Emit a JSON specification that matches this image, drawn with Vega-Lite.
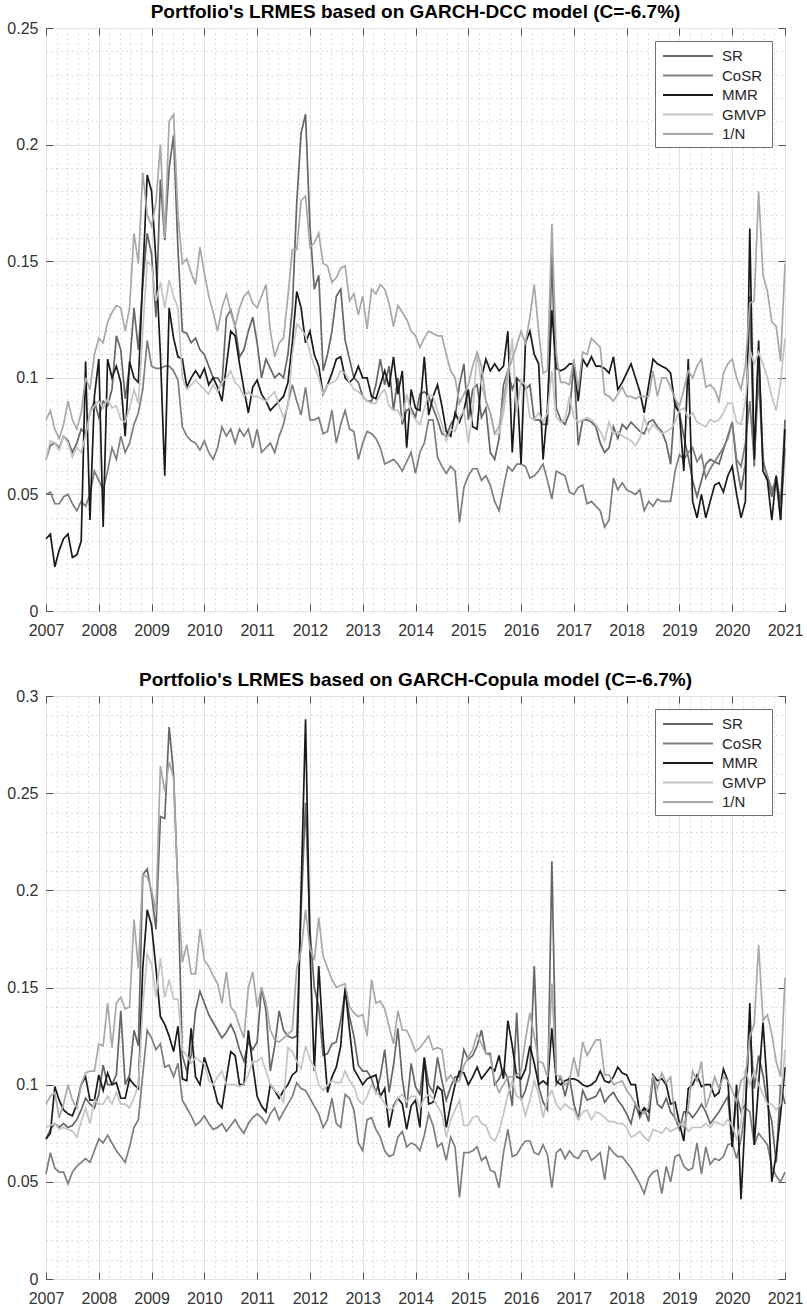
{
"$schema": "https://vega.github.io/schema/vega-lite/v6.json",
"background": "white",
"padding": {"left": 6, "top": 2, "right": 5, "bottom": 0},
"spacing": 31,
"datasets": {
"dcc": [
{"t":2007,"SR":0.065,"CoSR":0.05,"MMR":0.031,"GMVP":0.065,"1/N":0.082},
{"t":2007.083,"SR":0.071,"CoSR":0.051,"MMR":0.033,"GMVP":0.073,"1/N":0.086},
{"t":2007.167,"SR":0.072,"CoSR":0.046,"MMR":0.019,"GMVP":0.072,"1/N":0.078},
{"t":2007.25,"SR":0.07,"CoSR":0.046,"MMR":0.026,"GMVP":0.069,"1/N":0.074},
{"t":2007.333,"SR":0.075,"CoSR":0.049,"MMR":0.031,"GMVP":0.075,"1/N":0.08},
{"t":2007.417,"SR":0.073,"CoSR":0.05,"MMR":0.033,"GMVP":0.072,"1/N":0.09},
{"t":2007.5,"SR":0.068,"CoSR":0.046,"MMR":0.023,"GMVP":0.066,"1/N":0.082},
{"t":2007.583,"SR":0.072,"CoSR":0.043,"MMR":0.024,"GMVP":0.07,"1/N":0.078},
{"t":2007.667,"SR":0.078,"CoSR":0.047,"MMR":0.03,"GMVP":0.068,"1/N":0.085},
{"t":2007.75,"SR":0.076,"CoSR":0.045,"MMR":0.107,"GMVP":0.075,"1/N":0.1},
{"t":2007.833,"SR":0.085,"CoSR":0.05,"MMR":0.039,"GMVP":0.085,"1/N":0.095},
{"t":2007.917,"SR":0.09,"CoSR":0.06,"MMR":0.092,"GMVP":0.088,"1/N":0.11},
{"t":2008,"SR":0.083,"CoSR":0.056,"MMR":0.108,"GMVP":0.09,"1/N":0.117},
{"t":2008.083,"SR":0.09,"CoSR":0.052,"MMR":0.036,"GMVP":0.087,"1/N":0.115},
{"t":2008.167,"SR":0.088,"CoSR":0.06,"MMR":0.108,"GMVP":0.091,"1/N":0.124},
{"t":2008.25,"SR":0.095,"CoSR":0.07,"MMR":0.1,"GMVP":0.087,"1/N":0.128},
{"t":2008.333,"SR":0.118,"CoSR":0.065,"MMR":0.105,"GMVP":0.088,"1/N":0.131},
{"t":2008.417,"SR":0.112,"CoSR":0.075,"MMR":0.098,"GMVP":0.082,"1/N":0.13},
{"t":2008.5,"SR":0.091,"CoSR":0.068,"MMR":0.075,"GMVP":0.081,"1/N":0.12},
{"t":2008.583,"SR":0.105,"CoSR":0.072,"MMR":0.107,"GMVP":0.087,"1/N":0.13},
{"t":2008.667,"SR":0.13,"CoSR":0.08,"MMR":0.1,"GMVP":0.095,"1/N":0.162},
{"t":2008.75,"SR":0.112,"CoSR":0.085,"MMR":0.098,"GMVP":0.089,"1/N":0.149},
{"t":2008.833,"SR":0.14,"CoSR":0.095,"MMR":0.143,"GMVP":0.12,"1/N":0.188},
{"t":2008.917,"SR":0.162,"CoSR":0.116,"MMR":0.187,"GMVP":0.15,"1/N":0.17},
{"t":2009,"SR":0.153,"CoSR":0.105,"MMR":0.18,"GMVP":0.148,"1/N":0.165},
{"t":2009.083,"SR":0.126,"CoSR":0.104,"MMR":0.15,"GMVP":0.133,"1/N":0.175},
{"t":2009.167,"SR":0.185,"CoSR":0.104,"MMR":0.11,"GMVP":0.141,"1/N":0.2},
{"t":2009.25,"SR":0.159,"CoSR":0.105,"MMR":0.058,"GMVP":0.13,"1/N":0.16},
{"t":2009.333,"SR":0.19,"CoSR":0.105,"MMR":0.13,"GMVP":0.142,"1/N":0.21},
{"t":2009.417,"SR":0.204,"CoSR":0.103,"MMR":0.117,"GMVP":0.135,"1/N":0.213},
{"t":2009.5,"SR":0.155,"CoSR":0.099,"MMR":0.109,"GMVP":0.13,"1/N":0.17},
{"t":2009.583,"SR":0.12,"CoSR":0.079,"MMR":0.108,"GMVP":0.1,"1/N":0.149},
{"t":2009.667,"SR":0.119,"CoSR":0.075,"MMR":0.096,"GMVP":0.095,"1/N":0.151},
{"t":2009.75,"SR":0.115,"CoSR":0.073,"MMR":0.1,"GMVP":0.097,"1/N":0.145},
{"t":2009.833,"SR":0.117,"CoSR":0.072,"MMR":0.103,"GMVP":0.099,"1/N":0.14},
{"t":2009.917,"SR":0.112,"CoSR":0.069,"MMR":0.1,"GMVP":0.097,"1/N":0.156},
{"t":2010,"SR":0.11,"CoSR":0.073,"MMR":0.104,"GMVP":0.095,"1/N":0.145},
{"t":2010.083,"SR":0.105,"CoSR":0.068,"MMR":0.097,"GMVP":0.093,"1/N":0.135},
{"t":2010.167,"SR":0.1,"CoSR":0.065,"MMR":0.1,"GMVP":0.097,"1/N":0.128},
{"t":2010.25,"SR":0.1,"CoSR":0.07,"MMR":0.096,"GMVP":0.094,"1/N":0.12},
{"t":2010.333,"SR":0.097,"CoSR":0.079,"MMR":0.09,"GMVP":0.098,"1/N":0.13},
{"t":2010.417,"SR":0.126,"CoSR":0.075,"MMR":0.105,"GMVP":0.1,"1/N":0.136},
{"t":2010.5,"SR":0.129,"CoSR":0.078,"MMR":0.12,"GMVP":0.103,"1/N":0.128},
{"t":2010.583,"SR":0.122,"CoSR":0.072,"MMR":0.118,"GMVP":0.098,"1/N":0.122},
{"t":2010.667,"SR":0.109,"CoSR":0.078,"MMR":0.106,"GMVP":0.096,"1/N":0.13},
{"t":2010.75,"SR":0.112,"CoSR":0.075,"MMR":0.095,"GMVP":0.092,"1/N":0.135},
{"t":2010.833,"SR":0.12,"CoSR":0.078,"MMR":0.085,"GMVP":0.094,"1/N":0.137},
{"t":2010.917,"SR":0.126,"CoSR":0.07,"MMR":0.096,"GMVP":0.092,"1/N":0.132},
{"t":2011,"SR":0.115,"CoSR":0.078,"MMR":0.099,"GMVP":0.092,"1/N":0.13},
{"t":2011.083,"SR":0.1,"CoSR":0.068,"MMR":0.093,"GMVP":0.091,"1/N":0.135},
{"t":2011.167,"SR":0.108,"CoSR":0.07,"MMR":0.09,"GMVP":0.09,"1/N":0.14},
{"t":2011.25,"SR":0.104,"CoSR":0.072,"MMR":0.086,"GMVP":0.092,"1/N":0.12},
{"t":2011.333,"SR":0.1,"CoSR":0.068,"MMR":0.088,"GMVP":0.094,"1/N":0.109},
{"t":2011.417,"SR":0.102,"CoSR":0.075,"MMR":0.09,"GMVP":0.088,"1/N":0.115},
{"t":2011.5,"SR":0.1,"CoSR":0.08,"MMR":0.092,"GMVP":0.083,"1/N":0.117},
{"t":2011.583,"SR":0.11,"CoSR":0.089,"MMR":0.098,"GMVP":0.088,"1/N":0.135},
{"t":2011.667,"SR":0.13,"CoSR":0.097,"MMR":0.115,"GMVP":0.11,"1/N":0.155},
{"t":2011.75,"SR":0.175,"CoSR":0.09,"MMR":0.137,"GMVP":0.123,"1/N":0.155},
{"t":2011.833,"SR":0.205,"CoSR":0.084,"MMR":0.13,"GMVP":0.121,"1/N":0.176},
{"t":2011.917,"SR":0.213,"CoSR":0.096,"MMR":0.115,"GMVP":0.118,"1/N":0.178},
{"t":2012,"SR":0.165,"CoSR":0.082,"MMR":0.12,"GMVP":0.111,"1/N":0.156},
{"t":2012.083,"SR":0.138,"CoSR":0.082,"MMR":0.11,"GMVP":0.105,"1/N":0.158},
{"t":2012.167,"SR":0.144,"CoSR":0.083,"MMR":0.105,"GMVP":0.1,"1/N":0.162},
{"t":2012.25,"SR":0.103,"CoSR":0.076,"MMR":0.093,"GMVP":0.093,"1/N":0.149},
{"t":2012.333,"SR":0.11,"CoSR":0.077,"MMR":0.097,"GMVP":0.097,"1/N":0.148},
{"t":2012.417,"SR":0.12,"CoSR":0.086,"MMR":0.102,"GMVP":0.098,"1/N":0.141},
{"t":2012.5,"SR":0.135,"CoSR":0.072,"MMR":0.108,"GMVP":0.099,"1/N":0.143},
{"t":2012.583,"SR":0.138,"CoSR":0.08,"MMR":0.109,"GMVP":0.103,"1/N":0.147},
{"t":2012.667,"SR":0.116,"CoSR":0.086,"MMR":0.1,"GMVP":0.102,"1/N":0.148},
{"t":2012.75,"SR":0.108,"CoSR":0.078,"MMR":0.098,"GMVP":0.098,"1/N":0.133},
{"t":2012.833,"SR":0.1,"CoSR":0.077,"MMR":0.1,"GMVP":0.095,"1/N":0.136},
{"t":2012.917,"SR":0.098,"CoSR":0.065,"MMR":0.105,"GMVP":0.094,"1/N":0.127},
{"t":2013,"SR":0.092,"CoSR":0.072,"MMR":0.1,"GMVP":0.092,"1/N":0.135},
{"t":2013.083,"SR":0.09,"CoSR":0.077,"MMR":0.1,"GMVP":0.09,"1/N":0.121},
{"t":2013.167,"SR":0.09,"CoSR":0.076,"MMR":0.092,"GMVP":0.089,"1/N":0.138},
{"t":2013.25,"SR":0.097,"CoSR":0.074,"MMR":0.091,"GMVP":0.089,"1/N":0.136},
{"t":2013.333,"SR":0.108,"CoSR":0.07,"MMR":0.097,"GMVP":0.093,"1/N":0.14},
{"t":2013.417,"SR":0.097,"CoSR":0.063,"MMR":0.103,"GMVP":0.095,"1/N":0.138},
{"t":2013.5,"SR":0.105,"CoSR":0.064,"MMR":0.096,"GMVP":0.088,"1/N":0.132},
{"t":2013.583,"SR":0.086,"CoSR":0.065,"MMR":0.109,"GMVP":0.086,"1/N":0.122},
{"t":2013.667,"SR":0.1,"CoSR":0.063,"MMR":0.093,"GMVP":0.086,"1/N":0.131},
{"t":2013.75,"SR":0.08,"CoSR":0.06,"MMR":0.103,"GMVP":0.082,"1/N":0.128},
{"t":2013.833,"SR":0.086,"CoSR":0.064,"MMR":0.07,"GMVP":0.093,"1/N":0.125},
{"t":2013.917,"SR":0.087,"CoSR":0.068,"MMR":0.095,"GMVP":0.085,"1/N":0.12},
{"t":2014,"SR":0.083,"CoSR":0.059,"MMR":0.087,"GMVP":0.082,"1/N":0.118},
{"t":2014.083,"SR":0.093,"CoSR":0.068,"MMR":0.086,"GMVP":0.08,"1/N":0.113},
{"t":2014.167,"SR":0.094,"CoSR":0.072,"MMR":0.109,"GMVP":0.087,"1/N":0.117},
{"t":2014.25,"SR":0.092,"CoSR":0.082,"MMR":0.084,"GMVP":0.093,"1/N":0.12},
{"t":2014.333,"SR":0.087,"CoSR":0.082,"MMR":0.092,"GMVP":0.092,"1/N":0.119},
{"t":2014.417,"SR":0.082,"CoSR":0.066,"MMR":0.097,"GMVP":0.086,"1/N":0.118},
{"t":2014.5,"SR":0.076,"CoSR":0.062,"MMR":0.088,"GMVP":0.08,"1/N":0.118},
{"t":2014.583,"SR":0.075,"CoSR":0.059,"MMR":0.077,"GMVP":0.073,"1/N":0.11},
{"t":2014.667,"SR":0.08,"CoSR":0.062,"MMR":0.075,"GMVP":0.078,"1/N":0.103},
{"t":2014.75,"SR":0.083,"CoSR":0.06,"MMR":0.085,"GMVP":0.077,"1/N":0.1},
{"t":2014.833,"SR":0.097,"CoSR":0.038,"MMR":0.081,"GMVP":0.083,"1/N":0.089},
{"t":2014.917,"SR":0.106,"CoSR":0.053,"MMR":0.086,"GMVP":0.086,"1/N":0.093},
{"t":2015,"SR":0.082,"CoSR":0.058,"MMR":0.095,"GMVP":0.072,"1/N":0.097},
{"t":2015.083,"SR":0.095,"CoSR":0.061,"MMR":0.079,"GMVP":0.085,"1/N":0.105},
{"t":2015.167,"SR":0.097,"CoSR":0.061,"MMR":0.078,"GMVP":0.111,"1/N":0.111},
{"t":2015.25,"SR":0.083,"CoSR":0.056,"MMR":0.1,"GMVP":0.097,"1/N":0.105},
{"t":2015.333,"SR":0.087,"CoSR":0.058,"MMR":0.108,"GMVP":0.09,"1/N":0.09},
{"t":2015.417,"SR":0.068,"CoSR":0.054,"MMR":0.103,"GMVP":0.085,"1/N":0.085},
{"t":2015.5,"SR":0.065,"CoSR":0.047,"MMR":0.106,"GMVP":0.076,"1/N":0.076},
{"t":2015.583,"SR":0.074,"CoSR":0.043,"MMR":0.103,"GMVP":0.076,"1/N":0.079},
{"t":2015.667,"SR":0.097,"CoSR":0.053,"MMR":0.105,"GMVP":0.085,"1/N":0.09},
{"t":2015.75,"SR":0.103,"CoSR":0.062,"MMR":0.12,"GMVP":0.099,"1/N":0.103},
{"t":2015.833,"SR":0.095,"CoSR":0.06,"MMR":0.068,"GMVP":0.117,"1/N":0.108},
{"t":2015.917,"SR":0.1,"CoSR":0.063,"MMR":0.1,"GMVP":0.085,"1/N":0.114},
{"t":2016,"SR":0.098,"CoSR":0.063,"MMR":0.063,"GMVP":0.099,"1/N":0.12},
{"t":2016.083,"SR":0.095,"CoSR":0.062,"MMR":0.115,"GMVP":0.097,"1/N":0.115},
{"t":2016.167,"SR":0.097,"CoSR":0.057,"MMR":0.12,"GMVP":0.083,"1/N":0.126},
{"t":2016.25,"SR":0.082,"CoSR":0.058,"MMR":0.11,"GMVP":0.082,"1/N":0.14},
{"t":2016.333,"SR":0.082,"CoSR":0.06,"MMR":0.106,"GMVP":0.085,"1/N":0.12},
{"t":2016.417,"SR":0.08,"CoSR":0.063,"MMR":0.065,"GMVP":0.081,"1/N":0.102},
{"t":2016.5,"SR":0.08,"CoSR":0.056,"MMR":0.087,"GMVP":0.085,"1/N":0.103},
{"t":2016.583,"SR":0.153,"CoSR":0.048,"MMR":0.129,"GMVP":0.103,"1/N":0.166},
{"t":2016.667,"SR":0.087,"CoSR":0.06,"MMR":0.104,"GMVP":0.083,"1/N":0.11},
{"t":2016.75,"SR":0.082,"CoSR":0.059,"MMR":0.103,"GMVP":0.081,"1/N":0.098},
{"t":2016.833,"SR":0.08,"CoSR":0.058,"MMR":0.104,"GMVP":0.082,"1/N":0.098},
{"t":2016.917,"SR":0.085,"CoSR":0.051,"MMR":0.106,"GMVP":0.092,"1/N":0.097},
{"t":2017,"SR":0.106,"CoSR":0.05,"MMR":0.106,"GMVP":0.083,"1/N":0.108},
{"t":2017.083,"SR":0.071,"CoSR":0.053,"MMR":0.09,"GMVP":0.081,"1/N":0.095},
{"t":2017.167,"SR":0.082,"CoSR":0.054,"MMR":0.108,"GMVP":0.082,"1/N":0.111},
{"t":2017.25,"SR":0.082,"CoSR":0.046,"MMR":0.105,"GMVP":0.083,"1/N":0.11},
{"t":2017.333,"SR":0.081,"CoSR":0.047,"MMR":0.109,"GMVP":0.082,"1/N":0.117},
{"t":2017.417,"SR":0.079,"CoSR":0.045,"MMR":0.105,"GMVP":0.08,"1/N":0.115},
{"t":2017.5,"SR":0.072,"CoSR":0.043,"MMR":0.105,"GMVP":0.077,"1/N":0.113},
{"t":2017.583,"SR":0.068,"CoSR":0.036,"MMR":0.104,"GMVP":0.073,"1/N":0.093},
{"t":2017.667,"SR":0.07,"CoSR":0.039,"MMR":0.102,"GMVP":0.081,"1/N":0.092},
{"t":2017.75,"SR":0.079,"CoSR":0.057,"MMR":0.109,"GMVP":0.076,"1/N":0.09},
{"t":2017.833,"SR":0.074,"CoSR":0.052,"MMR":0.095,"GMVP":0.077,"1/N":0.093},
{"t":2017.917,"SR":0.08,"CoSR":0.055,"MMR":0.098,"GMVP":0.075,"1/N":0.096},
{"t":2018,"SR":0.078,"CoSR":0.052,"MMR":0.102,"GMVP":0.074,"1/N":0.092},
{"t":2018.083,"SR":0.081,"CoSR":0.051,"MMR":0.106,"GMVP":0.073,"1/N":0.092},
{"t":2018.167,"SR":0.079,"CoSR":0.05,"MMR":0.1,"GMVP":0.071,"1/N":0.091},
{"t":2018.25,"SR":0.077,"CoSR":0.052,"MMR":0.094,"GMVP":0.074,"1/N":0.092},
{"t":2018.333,"SR":0.076,"CoSR":0.043,"MMR":0.085,"GMVP":0.083,"1/N":0.092},
{"t":2018.417,"SR":0.081,"CoSR":0.047,"MMR":0.097,"GMVP":0.077,"1/N":0.092},
{"t":2018.5,"SR":0.082,"CoSR":0.045,"MMR":0.108,"GMVP":0.08,"1/N":0.103},
{"t":2018.583,"SR":0.079,"CoSR":0.048,"MMR":0.106,"GMVP":0.078,"1/N":0.092},
{"t":2018.667,"SR":0.077,"CoSR":0.047,"MMR":0.105,"GMVP":0.076,"1/N":0.1},
{"t":2018.75,"SR":0.072,"CoSR":0.047,"MMR":0.104,"GMVP":0.077,"1/N":0.1},
{"t":2018.833,"SR":0.063,"CoSR":0.047,"MMR":0.102,"GMVP":0.078,"1/N":0.096},
{"t":2018.917,"SR":0.09,"CoSR":0.06,"MMR":0.088,"GMVP":0.081,"1/N":0.091},
{"t":2019,"SR":0.085,"CoSR":0.067,"MMR":0.085,"GMVP":0.086,"1/N":0.088},
{"t":2019.083,"SR":0.075,"CoSR":0.065,"MMR":0.06,"GMVP":0.087,"1/N":0.095},
{"t":2019.167,"SR":0.066,"CoSR":0.068,"MMR":0.108,"GMVP":0.083,"1/N":0.103},
{"t":2019.25,"SR":0.056,"CoSR":0.07,"MMR":0.047,"GMVP":0.085,"1/N":0.1},
{"t":2019.333,"SR":0.049,"CoSR":0.064,"MMR":0.04,"GMVP":0.081,"1/N":0.105},
{"t":2019.417,"SR":0.056,"CoSR":0.067,"MMR":0.05,"GMVP":0.08,"1/N":0.108},
{"t":2019.5,"SR":0.063,"CoSR":0.057,"MMR":0.04,"GMVP":0.079,"1/N":0.096},
{"t":2019.583,"SR":0.065,"CoSR":0.061,"MMR":0.047,"GMVP":0.082,"1/N":0.097},
{"t":2019.667,"SR":0.064,"CoSR":0.064,"MMR":0.054,"GMVP":0.081,"1/N":0.095},
{"t":2019.75,"SR":0.063,"CoSR":0.067,"MMR":0.055,"GMVP":0.082,"1/N":0.09},
{"t":2019.833,"SR":0.069,"CoSR":0.07,"MMR":0.051,"GMVP":0.085,"1/N":0.102},
{"t":2019.917,"SR":0.075,"CoSR":0.074,"MMR":0.058,"GMVP":0.089,"1/N":0.106},
{"t":2020,"SR":0.081,"CoSR":0.081,"MMR":0.062,"GMVP":0.089,"1/N":0.108},
{"t":2020.083,"SR":0.063,"CoSR":0.065,"MMR":0.05,"GMVP":0.081,"1/N":0.1},
{"t":2020.167,"SR":0.052,"CoSR":0.062,"MMR":0.04,"GMVP":0.08,"1/N":0.095},
{"t":2020.25,"SR":0.063,"CoSR":0.072,"MMR":0.047,"GMVP":0.09,"1/N":0.105},
{"t":2020.333,"SR":0.135,"CoSR":0.09,"MMR":0.164,"GMVP":0.112,"1/N":0.132},
{"t":2020.417,"SR":0.062,"CoSR":0.064,"MMR":0.065,"GMVP":0.106,"1/N":0.133},
{"t":2020.5,"SR":0.111,"CoSR":0.1,"MMR":0.116,"GMVP":0.111,"1/N":0.18},
{"t":2020.583,"SR":0.065,"CoSR":0.064,"MMR":0.06,"GMVP":0.106,"1/N":0.144},
{"t":2020.667,"SR":0.057,"CoSR":0.058,"MMR":0.056,"GMVP":0.1,"1/N":0.137},
{"t":2020.75,"SR":0.049,"CoSR":0.052,"MMR":0.039,"GMVP":0.092,"1/N":0.124},
{"t":2020.833,"SR":0.058,"CoSR":0.056,"MMR":0.058,"GMVP":0.086,"1/N":0.122},
{"t":2020.917,"SR":0.046,"CoSR":0.039,"MMR":0.039,"GMVP":0.098,"1/N":0.107},
{"t":2021,"SR":0.082,"CoSR":0.07,"MMR":0.078,"GMVP":0.117,"1/N":0.149}
],
"cop": [
{"t":2007,"SR":0.072,"CoSR":0.054,"MMR":0.072,"GMVP":0.078,"1/N":0.09},
{"t":2007.083,"SR":0.077,"CoSR":0.065,"MMR":0.075,"GMVP":0.079,"1/N":0.094},
{"t":2007.167,"SR":0.08,"CoSR":0.057,"MMR":0.099,"GMVP":0.08,"1/N":0.096},
{"t":2007.25,"SR":0.078,"CoSR":0.055,"MMR":0.092,"GMVP":0.077,"1/N":0.083},
{"t":2007.333,"SR":0.08,"CoSR":0.055,"MMR":0.087,"GMVP":0.078,"1/N":0.09},
{"t":2007.417,"SR":0.078,"CoSR":0.049,"MMR":0.085,"GMVP":0.077,"1/N":0.1},
{"t":2007.5,"SR":0.079,"CoSR":0.055,"MMR":0.084,"GMVP":0.076,"1/N":0.092},
{"t":2007.583,"SR":0.082,"CoSR":0.058,"MMR":0.09,"GMVP":0.073,"1/N":0.088},
{"t":2007.667,"SR":0.087,"CoSR":0.06,"MMR":0.1,"GMVP":0.081,"1/N":0.1},
{"t":2007.75,"SR":0.093,"CoSR":0.062,"MMR":0.104,"GMVP":0.088,"1/N":0.106},
{"t":2007.833,"SR":0.09,"CoSR":0.06,"MMR":0.092,"GMVP":0.08,"1/N":0.107},
{"t":2007.917,"SR":0.088,"CoSR":0.066,"MMR":0.092,"GMVP":0.092,"1/N":0.107},
{"t":2008,"SR":0.095,"CoSR":0.072,"MMR":0.105,"GMVP":0.09,"1/N":0.121},
{"t":2008.083,"SR":0.11,"CoSR":0.07,"MMR":0.097,"GMVP":0.09,"1/N":0.12},
{"t":2008.167,"SR":0.1,"CoSR":0.074,"MMR":0.106,"GMVP":0.094,"1/N":0.142},
{"t":2008.25,"SR":0.1,"CoSR":0.07,"MMR":0.1,"GMVP":0.09,"1/N":0.119},
{"t":2008.333,"SR":0.105,"CoSR":0.066,"MMR":0.101,"GMVP":0.096,"1/N":0.142},
{"t":2008.417,"SR":0.138,"CoSR":0.063,"MMR":0.093,"GMVP":0.09,"1/N":0.145},
{"t":2008.5,"SR":0.1,"CoSR":0.06,"MMR":0.093,"GMVP":0.09,"1/N":0.139},
{"t":2008.583,"SR":0.105,"CoSR":0.068,"MMR":0.103,"GMVP":0.088,"1/N":0.14},
{"t":2008.667,"SR":0.128,"CoSR":0.078,"MMR":0.1,"GMVP":0.093,"1/N":0.185},
{"t":2008.75,"SR":0.12,"CoSR":0.082,"MMR":0.098,"GMVP":0.1,"1/N":0.16},
{"t":2008.833,"SR":0.208,"CoSR":0.105,"MMR":0.16,"GMVP":0.14,"1/N":0.208},
{"t":2008.917,"SR":0.211,"CoSR":0.128,"MMR":0.19,"GMVP":0.167,"1/N":0.207},
{"t":2009,"SR":0.198,"CoSR":0.124,"MMR":0.182,"GMVP":0.162,"1/N":0.2},
{"t":2009.083,"SR":0.18,"CoSR":0.118,"MMR":0.16,"GMVP":0.145,"1/N":0.189},
{"t":2009.167,"SR":0.238,"CoSR":0.121,"MMR":0.135,"GMVP":0.165,"1/N":0.264},
{"t":2009.25,"SR":0.237,"CoSR":0.109,"MMR":0.131,"GMVP":0.145,"1/N":0.251},
{"t":2009.333,"SR":0.284,"CoSR":0.11,"MMR":0.125,"GMVP":0.154,"1/N":0.266},
{"t":2009.417,"SR":0.26,"CoSR":0.104,"MMR":0.117,"GMVP":0.144,"1/N":0.258},
{"t":2009.5,"SR":0.2,"CoSR":0.111,"MMR":0.13,"GMVP":0.144,"1/N":0.2},
{"t":2009.583,"SR":0.115,"CoSR":0.092,"MMR":0.103,"GMVP":0.118,"1/N":0.163},
{"t":2009.667,"SR":0.107,"CoSR":0.088,"MMR":0.102,"GMVP":0.115,"1/N":0.172},
{"t":2009.75,"SR":0.115,"CoSR":0.084,"MMR":0.129,"GMVP":0.111,"1/N":0.157},
{"t":2009.833,"SR":0.138,"CoSR":0.079,"MMR":0.104,"GMVP":0.114,"1/N":0.157},
{"t":2009.917,"SR":0.148,"CoSR":0.081,"MMR":0.1,"GMVP":0.112,"1/N":0.18},
{"t":2010,"SR":0.142,"CoSR":0.084,"MMR":0.114,"GMVP":0.111,"1/N":0.164},
{"t":2010.083,"SR":0.136,"CoSR":0.08,"MMR":0.107,"GMVP":0.102,"1/N":0.161},
{"t":2010.167,"SR":0.132,"CoSR":0.077,"MMR":0.1,"GMVP":0.1,"1/N":0.156},
{"t":2010.25,"SR":0.128,"CoSR":0.078,"MMR":0.091,"GMVP":0.104,"1/N":0.152},
{"t":2010.333,"SR":0.124,"CoSR":0.08,"MMR":0.088,"GMVP":0.107,"1/N":0.142},
{"t":2010.417,"SR":0.127,"CoSR":0.076,"MMR":0.103,"GMVP":0.1,"1/N":0.158},
{"t":2010.5,"SR":0.131,"CoSR":0.079,"MMR":0.117,"GMVP":0.1,"1/N":0.14},
{"t":2010.583,"SR":0.126,"CoSR":0.082,"MMR":0.115,"GMVP":0.1,"1/N":0.137},
{"t":2010.667,"SR":0.118,"CoSR":0.078,"MMR":0.1,"GMVP":0.099,"1/N":0.13},
{"t":2010.75,"SR":0.112,"CoSR":0.075,"MMR":0.1,"GMVP":0.1,"1/N":0.124},
{"t":2010.833,"SR":0.122,"CoSR":0.08,"MMR":0.128,"GMVP":0.105,"1/N":0.15},
{"t":2010.917,"SR":0.118,"CoSR":0.083,"MMR":0.11,"GMVP":0.112,"1/N":0.158},
{"t":2011,"SR":0.122,"CoSR":0.085,"MMR":0.094,"GMVP":0.112,"1/N":0.14},
{"t":2011.083,"SR":0.15,"CoSR":0.083,"MMR":0.089,"GMVP":0.114,"1/N":0.15},
{"t":2011.167,"SR":0.138,"CoSR":0.08,"MMR":0.086,"GMVP":0.107,"1/N":0.142},
{"t":2011.25,"SR":0.107,"CoSR":0.085,"MMR":0.1,"GMVP":0.1,"1/N":0.128},
{"t":2011.333,"SR":0.12,"CoSR":0.088,"MMR":0.097,"GMVP":0.097,"1/N":0.123},
{"t":2011.417,"SR":0.138,"CoSR":0.082,"MMR":0.093,"GMVP":0.095,"1/N":0.122},
{"t":2011.5,"SR":0.128,"CoSR":0.086,"MMR":0.097,"GMVP":0.091,"1/N":0.124},
{"t":2011.583,"SR":0.125,"CoSR":0.09,"MMR":0.1,"GMVP":0.119,"1/N":0.126},
{"t":2011.667,"SR":0.124,"CoSR":0.094,"MMR":0.105,"GMVP":0.117,"1/N":0.128},
{"t":2011.75,"SR":0.125,"CoSR":0.101,"MMR":0.107,"GMVP":0.112,"1/N":0.16},
{"t":2011.833,"SR":0.19,"CoSR":0.098,"MMR":0.2,"GMVP":0.108,"1/N":0.169},
{"t":2011.917,"SR":0.245,"CoSR":0.097,"MMR":0.288,"GMVP":0.12,"1/N":0.19},
{"t":2012,"SR":0.18,"CoSR":0.093,"MMR":0.17,"GMVP":0.113,"1/N":0.17},
{"t":2012.083,"SR":0.15,"CoSR":0.089,"MMR":0.107,"GMVP":0.109,"1/N":0.164},
{"t":2012.167,"SR":0.14,"CoSR":0.085,"MMR":0.161,"GMVP":0.1,"1/N":0.186},
{"t":2012.25,"SR":0.115,"CoSR":0.078,"MMR":0.124,"GMVP":0.097,"1/N":0.166},
{"t":2012.333,"SR":0.116,"CoSR":0.082,"MMR":0.096,"GMVP":0.1,"1/N":0.16},
{"t":2012.417,"SR":0.121,"CoSR":0.093,"MMR":0.104,"GMVP":0.102,"1/N":0.154},
{"t":2012.5,"SR":0.122,"CoSR":0.08,"MMR":0.109,"GMVP":0.101,"1/N":0.15},
{"t":2012.583,"SR":0.133,"CoSR":0.078,"MMR":0.12,"GMVP":0.101,"1/N":0.151},
{"t":2012.667,"SR":0.148,"CoSR":0.095,"MMR":0.15,"GMVP":0.107,"1/N":0.152},
{"t":2012.75,"SR":0.135,"CoSR":0.093,"MMR":0.128,"GMVP":0.102,"1/N":0.14},
{"t":2012.833,"SR":0.125,"CoSR":0.087,"MMR":0.108,"GMVP":0.099,"1/N":0.137},
{"t":2012.917,"SR":0.11,"CoSR":0.07,"MMR":0.104,"GMVP":0.092,"1/N":0.135},
{"t":2013,"SR":0.107,"CoSR":0.066,"MMR":0.1,"GMVP":0.09,"1/N":0.136},
{"t":2013.083,"SR":0.107,"CoSR":0.082,"MMR":0.103,"GMVP":0.094,"1/N":0.125},
{"t":2013.167,"SR":0.103,"CoSR":0.083,"MMR":0.104,"GMVP":0.1,"1/N":0.154},
{"t":2013.25,"SR":0.096,"CoSR":0.077,"MMR":0.105,"GMVP":0.096,"1/N":0.142},
{"t":2013.333,"SR":0.104,"CoSR":0.073,"MMR":0.094,"GMVP":0.094,"1/N":0.143},
{"t":2013.417,"SR":0.118,"CoSR":0.066,"MMR":0.098,"GMVP":0.09,"1/N":0.139},
{"t":2013.5,"SR":0.096,"CoSR":0.063,"MMR":0.078,"GMVP":0.087,"1/N":0.13},
{"t":2013.583,"SR":0.11,"CoSR":0.064,"MMR":0.089,"GMVP":0.088,"1/N":0.121},
{"t":2013.667,"SR":0.129,"CoSR":0.073,"MMR":0.093,"GMVP":0.093,"1/N":0.138},
{"t":2013.75,"SR":0.103,"CoSR":0.076,"MMR":0.09,"GMVP":0.095,"1/N":0.128},
{"t":2013.833,"SR":0.088,"CoSR":0.068,"MMR":0.077,"GMVP":0.091,"1/N":0.128},
{"t":2013.917,"SR":0.111,"CoSR":0.07,"MMR":0.089,"GMVP":0.094,"1/N":0.123},
{"t":2014,"SR":0.099,"CoSR":0.069,"MMR":0.092,"GMVP":0.094,"1/N":0.117},
{"t":2014.083,"SR":0.095,"CoSR":0.066,"MMR":0.078,"GMVP":0.088,"1/N":0.119},
{"t":2014.167,"SR":0.114,"CoSR":0.074,"MMR":0.114,"GMVP":0.093,"1/N":0.122},
{"t":2014.25,"SR":0.1,"CoSR":0.085,"MMR":0.09,"GMVP":0.095,"1/N":0.125},
{"t":2014.333,"SR":0.096,"CoSR":0.079,"MMR":0.091,"GMVP":0.093,"1/N":0.118},
{"t":2014.417,"SR":0.114,"CoSR":0.068,"MMR":0.099,"GMVP":0.089,"1/N":0.119},
{"t":2014.5,"SR":0.102,"CoSR":0.07,"MMR":0.097,"GMVP":0.085,"1/N":0.118},
{"t":2014.583,"SR":0.092,"CoSR":0.061,"MMR":0.078,"GMVP":0.073,"1/N":0.102},
{"t":2014.667,"SR":0.099,"CoSR":0.073,"MMR":0.09,"GMVP":0.082,"1/N":0.105},
{"t":2014.75,"SR":0.104,"CoSR":0.068,"MMR":0.1,"GMVP":0.087,"1/N":0.101},
{"t":2014.833,"SR":0.104,"CoSR":0.042,"MMR":0.107,"GMVP":0.092,"1/N":0.102},
{"t":2014.917,"SR":0.118,"CoSR":0.065,"MMR":0.106,"GMVP":0.079,"1/N":0.11},
{"t":2015,"SR":0.113,"CoSR":0.065,"MMR":0.1,"GMVP":0.079,"1/N":0.114},
{"t":2015.083,"SR":0.115,"CoSR":0.066,"MMR":0.104,"GMVP":0.083,"1/N":0.118},
{"t":2015.167,"SR":0.12,"CoSR":0.068,"MMR":0.109,"GMVP":0.084,"1/N":0.126},
{"t":2015.25,"SR":0.128,"CoSR":0.061,"MMR":0.103,"GMVP":0.08,"1/N":0.121},
{"t":2015.333,"SR":0.116,"CoSR":0.063,"MMR":0.106,"GMVP":0.079,"1/N":0.116},
{"t":2015.417,"SR":0.116,"CoSR":0.056,"MMR":0.109,"GMVP":0.073,"1/N":0.115},
{"t":2015.5,"SR":0.1,"CoSR":0.055,"MMR":0.107,"GMVP":0.071,"1/N":0.102},
{"t":2015.583,"SR":0.103,"CoSR":0.047,"MMR":0.115,"GMVP":0.076,"1/N":0.096},
{"t":2015.667,"SR":0.108,"CoSR":0.065,"MMR":0.103,"GMVP":0.085,"1/N":0.1},
{"t":2015.75,"SR":0.103,"CoSR":0.077,"MMR":0.133,"GMVP":0.095,"1/N":0.104},
{"t":2015.833,"SR":0.089,"CoSR":0.063,"MMR":0.12,"GMVP":0.102,"1/N":0.104},
{"t":2015.917,"SR":0.137,"CoSR":0.064,"MMR":0.104,"GMVP":0.094,"1/N":0.105},
{"t":2016,"SR":0.092,"CoSR":0.068,"MMR":0.103,"GMVP":0.093,"1/N":0.107},
{"t":2016.083,"SR":0.097,"CoSR":0.071,"MMR":0.108,"GMVP":0.084,"1/N":0.123},
{"t":2016.167,"SR":0.106,"CoSR":0.071,"MMR":0.12,"GMVP":0.092,"1/N":0.137},
{"t":2016.25,"SR":0.161,"CoSR":0.065,"MMR":0.111,"GMVP":0.102,"1/N":0.125},
{"t":2016.333,"SR":0.099,"CoSR":0.064,"MMR":0.1,"GMVP":0.095,"1/N":0.112},
{"t":2016.417,"SR":0.091,"CoSR":0.069,"MMR":0.102,"GMVP":0.083,"1/N":0.111},
{"t":2016.5,"SR":0.087,"CoSR":0.064,"MMR":0.1,"GMVP":0.093,"1/N":0.104},
{"t":2016.583,"SR":0.215,"CoSR":0.047,"MMR":0.129,"GMVP":0.097,"1/N":0.152},
{"t":2016.667,"SR":0.1,"CoSR":0.065,"MMR":0.102,"GMVP":0.09,"1/N":0.105},
{"t":2016.75,"SR":0.104,"CoSR":0.067,"MMR":0.1,"GMVP":0.087,"1/N":0.104},
{"t":2016.833,"SR":0.094,"CoSR":0.062,"MMR":0.102,"GMVP":0.09,"1/N":0.1},
{"t":2016.917,"SR":0.104,"CoSR":0.066,"MMR":0.103,"GMVP":0.088,"1/N":0.102},
{"t":2017,"SR":0.09,"CoSR":0.063,"MMR":0.103,"GMVP":0.087,"1/N":0.114},
{"t":2017.083,"SR":0.082,"CoSR":0.062,"MMR":0.102,"GMVP":0.082,"1/N":0.104},
{"t":2017.167,"SR":0.097,"CoSR":0.066,"MMR":0.1,"GMVP":0.086,"1/N":0.122},
{"t":2017.25,"SR":0.092,"CoSR":0.066,"MMR":0.099,"GMVP":0.087,"1/N":0.115},
{"t":2017.333,"SR":0.093,"CoSR":0.061,"MMR":0.1,"GMVP":0.082,"1/N":0.119},
{"t":2017.417,"SR":0.094,"CoSR":0.063,"MMR":0.102,"GMVP":0.086,"1/N":0.123},
{"t":2017.5,"SR":0.098,"CoSR":0.065,"MMR":0.107,"GMVP":0.085,"1/N":0.123},
{"t":2017.583,"SR":0.091,"CoSR":0.051,"MMR":0.102,"GMVP":0.083,"1/N":0.105},
{"t":2017.667,"SR":0.094,"CoSR":0.068,"MMR":0.101,"GMVP":0.081,"1/N":0.105},
{"t":2017.75,"SR":0.096,"CoSR":0.065,"MMR":0.104,"GMVP":0.081,"1/N":0.1},
{"t":2017.833,"SR":0.092,"CoSR":0.063,"MMR":0.109,"GMVP":0.08,"1/N":0.101},
{"t":2017.917,"SR":0.089,"CoSR":0.063,"MMR":0.106,"GMVP":0.08,"1/N":0.102},
{"t":2018,"SR":0.085,"CoSR":0.06,"MMR":0.105,"GMVP":0.078,"1/N":0.097},
{"t":2018.083,"SR":0.08,"CoSR":0.057,"MMR":0.1,"GMVP":0.073,"1/N":0.094},
{"t":2018.167,"SR":0.09,"CoSR":0.053,"MMR":0.1,"GMVP":0.074,"1/N":0.09},
{"t":2018.25,"SR":0.083,"CoSR":0.049,"MMR":0.085,"GMVP":0.076,"1/N":0.087},
{"t":2018.333,"SR":0.088,"CoSR":0.044,"MMR":0.088,"GMVP":0.073,"1/N":0.085},
{"t":2018.417,"SR":0.081,"CoSR":0.052,"MMR":0.086,"GMVP":0.071,"1/N":0.088},
{"t":2018.5,"SR":0.105,"CoSR":0.055,"MMR":0.105,"GMVP":0.077,"1/N":0.105},
{"t":2018.583,"SR":0.09,"CoSR":0.056,"MMR":0.102,"GMVP":0.076,"1/N":0.098},
{"t":2018.667,"SR":0.088,"CoSR":0.044,"MMR":0.103,"GMVP":0.075,"1/N":0.106},
{"t":2018.75,"SR":0.093,"CoSR":0.058,"MMR":0.1,"GMVP":0.078,"1/N":0.101},
{"t":2018.833,"SR":0.086,"CoSR":0.05,"MMR":0.09,"GMVP":0.076,"1/N":0.104},
{"t":2018.917,"SR":0.083,"CoSR":0.063,"MMR":0.091,"GMVP":0.077,"1/N":0.082},
{"t":2019,"SR":0.077,"CoSR":0.064,"MMR":0.08,"GMVP":0.079,"1/N":0.08},
{"t":2019.083,"SR":0.086,"CoSR":0.058,"MMR":0.071,"GMVP":0.081,"1/N":0.078},
{"t":2019.167,"SR":0.086,"CoSR":0.056,"MMR":0.098,"GMVP":0.076,"1/N":0.088},
{"t":2019.25,"SR":0.083,"CoSR":0.057,"MMR":0.1,"GMVP":0.078,"1/N":0.107},
{"t":2019.333,"SR":0.086,"CoSR":0.07,"MMR":0.105,"GMVP":0.078,"1/N":0.102},
{"t":2019.417,"SR":0.09,"CoSR":0.054,"MMR":0.099,"GMVP":0.078,"1/N":0.112},
{"t":2019.5,"SR":0.086,"CoSR":0.068,"MMR":0.1,"GMVP":0.08,"1/N":0.088},
{"t":2019.583,"SR":0.08,"CoSR":0.059,"MMR":0.1,"GMVP":0.078,"1/N":0.095},
{"t":2019.667,"SR":0.083,"CoSR":0.062,"MMR":0.094,"GMVP":0.081,"1/N":0.104},
{"t":2019.75,"SR":0.086,"CoSR":0.061,"MMR":0.096,"GMVP":0.08,"1/N":0.098},
{"t":2019.833,"SR":0.09,"CoSR":0.063,"MMR":0.108,"GMVP":0.079,"1/N":0.104},
{"t":2019.917,"SR":0.094,"CoSR":0.069,"MMR":0.102,"GMVP":0.082,"1/N":0.102},
{"t":2020,"SR":0.068,"CoSR":0.07,"MMR":0.068,"GMVP":0.079,"1/N":0.097},
{"t":2020.083,"SR":0.095,"CoSR":0.062,"MMR":0.1,"GMVP":0.072,"1/N":0.091},
{"t":2020.167,"SR":0.086,"CoSR":0.072,"MMR":0.041,"GMVP":0.08,"1/N":0.102},
{"t":2020.25,"SR":0.09,"CoSR":0.088,"MMR":0.085,"GMVP":0.108,"1/N":0.104},
{"t":2020.333,"SR":0.13,"CoSR":0.086,"MMR":0.142,"GMVP":0.1,"1/N":0.125},
{"t":2020.417,"SR":0.098,"CoSR":0.069,"MMR":0.069,"GMVP":0.107,"1/N":0.131},
{"t":2020.5,"SR":0.115,"CoSR":0.075,"MMR":0.1,"GMVP":0.1,"1/N":0.172},
{"t":2020.583,"SR":0.105,"CoSR":0.072,"MMR":0.132,"GMVP":0.095,"1/N":0.133},
{"t":2020.667,"SR":0.09,"CoSR":0.069,"MMR":0.098,"GMVP":0.09,"1/N":0.136},
{"t":2020.75,"SR":0.081,"CoSR":0.058,"MMR":0.05,"GMVP":0.09,"1/N":0.126},
{"t":2020.833,"SR":0.06,"CoSR":0.053,"MMR":0.064,"GMVP":0.087,"1/N":0.112},
{"t":2020.917,"SR":0.1,"CoSR":0.05,"MMR":0.085,"GMVP":0.09,"1/N":0.104},
{"t":2021,"SR":0.09,"CoSR":0.055,"MMR":0.109,"GMVP":0.118,"1/N":0.155}
]
},
"vconcat": [
{
"title": {"text": "Portfolio's LRMES based on GARCH-DCC model (C=-6.7%)", "frame": "group"},
"width": 739, "height": 583,
"data": {"name": "dcc"},
"transform": [{"fold": ["SR", "CoSR", "MMR", "GMVP", "1/N"], "as": ["s", "v"]}],
"layer": [
{"mark": {"type": "line", "strokeOpacity": 0},
 "encoding": {
  "x": {"field": "t", "type": "quantitative", "scale": {"domain": [2007, 2021], "nice": false, "zero": false},
        "axis": {"orient": "bottom", "tickCount": 70, "grid": true, "gridDash": [1, 4], "gridColor": "#bdbdbd", "labels": false, "ticks": false, "domain": false, "title": null}},
  "y": {"field": "v", "type": "quantitative", "scale": {"domain": [0, 0.25], "nice": false},
        "axis": {"orient": "left", "tickCount": 25, "grid": true, "gridDash": [1, 4], "gridColor": "#bdbdbd", "labels": false, "ticks": false, "domain": false, "title": null}}
 }},
{"mark": {"type": "line", "strokeOpacity": 0},
 "encoding": {
  "x": {"field": "t", "type": "quantitative", "scale": {"domain": [2007, 2021], "nice": false, "zero": false},
        "axis": {"orient": "top", "values": [2007,2008,2009,2010,2011,2012,2013,2014,2015,2016,2017,2018,2019,2020,2021], "labels": false, "grid": false, "domain": false, "ticks": true, "tickSize": -7, "tickColor": "#4d4d4d", "title": null}},
  "y": {"field": "v", "type": "quantitative", "scale": {"domain": [0, 0.25], "nice": false},
        "axis": {"orient": "right", "values": [0, 0.05, 0.1, 0.15, 0.2, 0.25], "labels": false, "grid": false, "domain": false, "ticks": true, "tickSize": -7, "tickColor": "#4d4d4d", "title": null}}
 }},
{"mark": {"type": "line", "strokeWidth": 1.7},
 "encoding": {
  "x": {"field": "t", "type": "quantitative", "scale": {"domain": [2007, 2021], "nice": false, "zero": false},
        "axis": {"orient": "bottom", "values": [2007,2008,2009,2010,2011,2012,2013,2014,2015,2016,2017,2018,2019,2020,2021], "format": "d", "grid": true, "gridColor": "#e2e2e2", "ticks": true, "tickSize": -7, "tickColor": "#4d4d4d", "labelPadding": 18, "labelFlush": false, "labelOverlap": false, "domain": false, "title": null}},
  "y": {"field": "v", "type": "quantitative", "scale": {"domain": [0, 0.25], "nice": false},
        "axis": {"orient": "left", "values": [0, 0.05, 0.1, 0.15, 0.2, 0.25], "format": "~g", "grid": true, "gridColor": "#e2e2e2", "ticks": true, "tickSize": -7, "tickColor": "#4d4d4d", "labelPadding": 15, "labelOverlap": false, "domain": false, "title": null}},
  "color": {"field": "s", "type": "nominal",
            "scale": {"domain": ["SR", "CoSR", "MMR", "GMVP", "1/N"], "range": ["#666666", "#7e7e7e", "#1a1a1a", "#c4c4c4", "#a8a8a8"]},
            "legend": {"title": null, "orient": "top-right", "offset": 13}}
 }}
],
"resolve": {"axis": {"x": "independent", "y": "independent"}}
},
{
"title": {"text": "Portfolio's LRMES based on GARCH-Copula model (C=-6.7%)", "frame": "group"},
"width": 739, "height": 583,
"data": {"name": "cop"},
"transform": [{"fold": ["SR", "CoSR", "MMR", "GMVP", "1/N"], "as": ["s", "v"]}],
"layer": [
{"mark": {"type": "line", "strokeOpacity": 0},
 "encoding": {
  "x": {"field": "t", "type": "quantitative", "scale": {"domain": [2007, 2021], "nice": false, "zero": false},
        "axis": {"orient": "bottom", "tickCount": 70, "grid": true, "gridDash": [1, 4], "gridColor": "#bdbdbd", "labels": false, "ticks": false, "domain": false, "title": null}},
  "y": {"field": "v", "type": "quantitative", "scale": {"domain": [0, 0.3], "nice": false},
        "axis": {"orient": "left", "tickCount": 30, "grid": true, "gridDash": [1, 4], "gridColor": "#bdbdbd", "labels": false, "ticks": false, "domain": false, "title": null}}
 }},
{"mark": {"type": "line", "strokeOpacity": 0},
 "encoding": {
  "x": {"field": "t", "type": "quantitative", "scale": {"domain": [2007, 2021], "nice": false, "zero": false},
        "axis": {"orient": "top", "values": [2007,2008,2009,2010,2011,2012,2013,2014,2015,2016,2017,2018,2019,2020,2021], "labels": false, "grid": false, "domain": false, "ticks": true, "tickSize": -7, "tickColor": "#4d4d4d", "title": null}},
  "y": {"field": "v", "type": "quantitative", "scale": {"domain": [0, 0.3], "nice": false},
        "axis": {"orient": "right", "values": [0, 0.05, 0.1, 0.15, 0.2, 0.25, 0.3], "labels": false, "grid": false, "domain": false, "ticks": true, "tickSize": -7, "tickColor": "#4d4d4d", "title": null}}
 }},
{"mark": {"type": "line", "strokeWidth": 1.7},
 "encoding": {
  "x": {"field": "t", "type": "quantitative", "scale": {"domain": [2007, 2021], "nice": false, "zero": false},
        "axis": {"orient": "bottom", "values": [2007,2008,2009,2010,2011,2012,2013,2014,2015,2016,2017,2018,2019,2020,2021], "format": "d", "grid": true, "gridColor": "#e2e2e2", "ticks": true, "tickSize": -7, "tickColor": "#4d4d4d", "labelPadding": 18, "labelFlush": false, "labelOverlap": false, "domain": false, "title": null}},
  "y": {"field": "v", "type": "quantitative", "scale": {"domain": [0, 0.3], "nice": false},
        "axis": {"orient": "left", "values": [0, 0.05, 0.1, 0.15, 0.2, 0.25, 0.3], "format": "~g", "grid": true, "gridColor": "#e2e2e2", "ticks": true, "tickSize": -7, "tickColor": "#4d4d4d", "labelPadding": 15, "labelOverlap": false, "domain": false, "title": null}},
  "color": {"field": "s", "type": "nominal",
            "scale": {"domain": ["SR", "CoSR", "MMR", "GMVP", "1/N"], "range": ["#666666", "#7e7e7e", "#1a1a1a", "#c4c4c4", "#a8a8a8"]},
            "legend": {"title": null, "orient": "top-right", "offset": 13}}
 }}
],
"resolve": {"axis": {"x": "independent", "y": "independent"}}
}
],
"resolve": {"scale": {"color": "independent"}, "legend": {"color": "independent"}},
"config": {
 "font": "Liberation Sans",
 "view": {"stroke": "#4d4d4d", "strokeWidth": 1},
 "title": {"font": "Liberation Sans", "fontSize": 19, "fontWeight": "bold", "color": "#000000", "offset": -2, "anchor": "middle"},
 "axis": {"labelFont": "Liberation Sans", "labelFontSize": 16, "labelColor": "#333333", "gridWidth": 1, "tickWidth": 1},
 "legend": {"labelFont": "Liberation Sans", "labelFontSize": 15, "labelColor": "#262626", "symbolType": "M-1.111,0H4.444", "symbolSize": 324, "symbolStrokeWidth": 2, "symbolOffset": 3, "labelOffset": 39, "rowPadding": 1.5, "padding": 5, "strokeColor": "#6e6e6e", "fillColor": "#ffffff", "cornerRadius": 0}
}
}
